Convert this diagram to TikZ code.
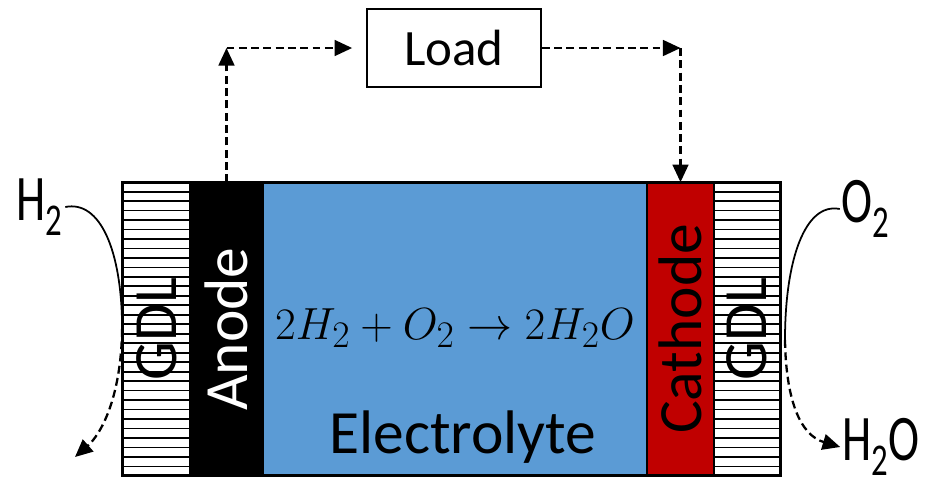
\documentclass[tikz,border=0pt]{standalone}
\usepackage{graphicx}
\usepackage{fontspec}
\setmainfont{Carlito}
\usetikzlibrary{arrows.meta,calc}
\definecolor{elecblue}{RGB}{91,155,213}
\definecolor{cathred}{RGB}{192,0,0}
\newcommand{\gaslabel}[1]{\scalebox{0.72}[1]{#1}}

\begin{document}
\begin{tikzpicture}[x=0.02cm, y=-0.02cm,
    layer/.style={rectangle, draw=black, line width=1pt, minimum height=5.84cm, inner sep=0pt},
    lbl/.style={font=\fontsize{35}{40}\selectfont, inner sep=0pt},
    stripe/.style={line width=1pt},
    wire/.style={dash pattern=on 4.5pt off 2.5pt, line width=1.3pt},
    gas/.style={font=\fontsize{37}{42}\selectfont, inner sep=1pt},
    >={Triangle[length=10pt,width=9pt]}
]
    \useasboundingbox (0,0) rectangle (938,488);

    % cell layers
    \node[layer, minimum width=1.34cm, fill=white] (gdlL) at (156.5,329) {};
    \node[layer, minimum width=1.46cm, fill=black] (anode) at (226.5,329) {};
    \node[layer, minimum width=7.68cm, fill=elecblue] (elec) at (455,329) {};
    \node[layer, minimum width=1.34cm, fill=cathred] (cathode) at (680.5,329) {};
    \node[layer, minimum width=1.32cm, fill=white] (gdlR) at (747,329) {};

    % GDL stripes
    \foreach \i in {1,...,30} {
        \draw[stripe] ($(gdlL.north west)!\i/31!(gdlL.south west)$) -- ($(gdlL.north east)!\i/31!(gdlL.south east)$);
        \draw[stripe] ($(gdlR.north west)!\i/31!(gdlR.south west)$) -- ($(gdlR.north east)!\i/31!(gdlR.south east)$);
    }
    \draw[line width=1.5pt] (gdlL.north west) rectangle (gdlR.south east);

    % layer labels
    \node[lbl, rotate=90] (gdlLtxt) at (gdlL) {GDL};
    \node[lbl, rotate=90, text=white] (anodetxt) at (anode) {Anode};
    \node[lbl, rotate=90] (cathodetxt) at (cathode) {Cathode};
    \node[lbl, rotate=90] (gdlRtxt) at (gdlR) {GDL};
    \node[lbl] (electxt) at (463,437) {Electrolyte};
    \node[font=\Huge] (reaction) at (455,328) {\scalebox{1.03}{$2H_2+O_2\rightarrow 2H_2O$}};

    % external circuit
    \node[rectangle, draw, line width=1pt, minimum width=3.48cm, minimum height=1.56cm,
          font=\fontsize{29}{34}\selectfont] (load) at (454,48) {Load};
    \coordinate (anodeup) at (anode.north |- load.west);
    \coordinate (cathodeup) at (cathode.north |- load.east);
    \draw[wire,->] (anode.north) -- (anodeup);
    \draw[wire,->,shorten >=0.28cm] (anodeup) -- (load.west);
    \draw[wire,->] (load.east) -- (cathodeup);
    \draw[wire,->] (cathodeup) -- (cathode.north);

    % gas flows
    \node[gas] (h2) at (40,207) {\gaslabel{H\textsubscript{2}}};
    \node[gas] (o2) at (866,209) {\gaslabel{O\textsubscript{2}}};
    \node[gas] (h2o) at (881,447) {\gaslabel{H\textsubscript{2}O}};
    \coordinate (h2out) at (75,457);
    \coordinate (o2mid) at (785,340);
    \draw[line width=1pt] (h2.east) .. controls (100,200) and (122,250) .. (gdlL.west);
    \draw[wire,->] (gdlL.west) .. controls (121,400) and (100,435) .. (h2out);
    \draw[line width=1pt] (o2.west) .. controls (805,202) and (785,260) .. (o2mid);
    \draw[wire,->] (o2mid) .. controls (786,400) and (800,435) .. (h2o.west);
\end{tikzpicture}
\end{document}
